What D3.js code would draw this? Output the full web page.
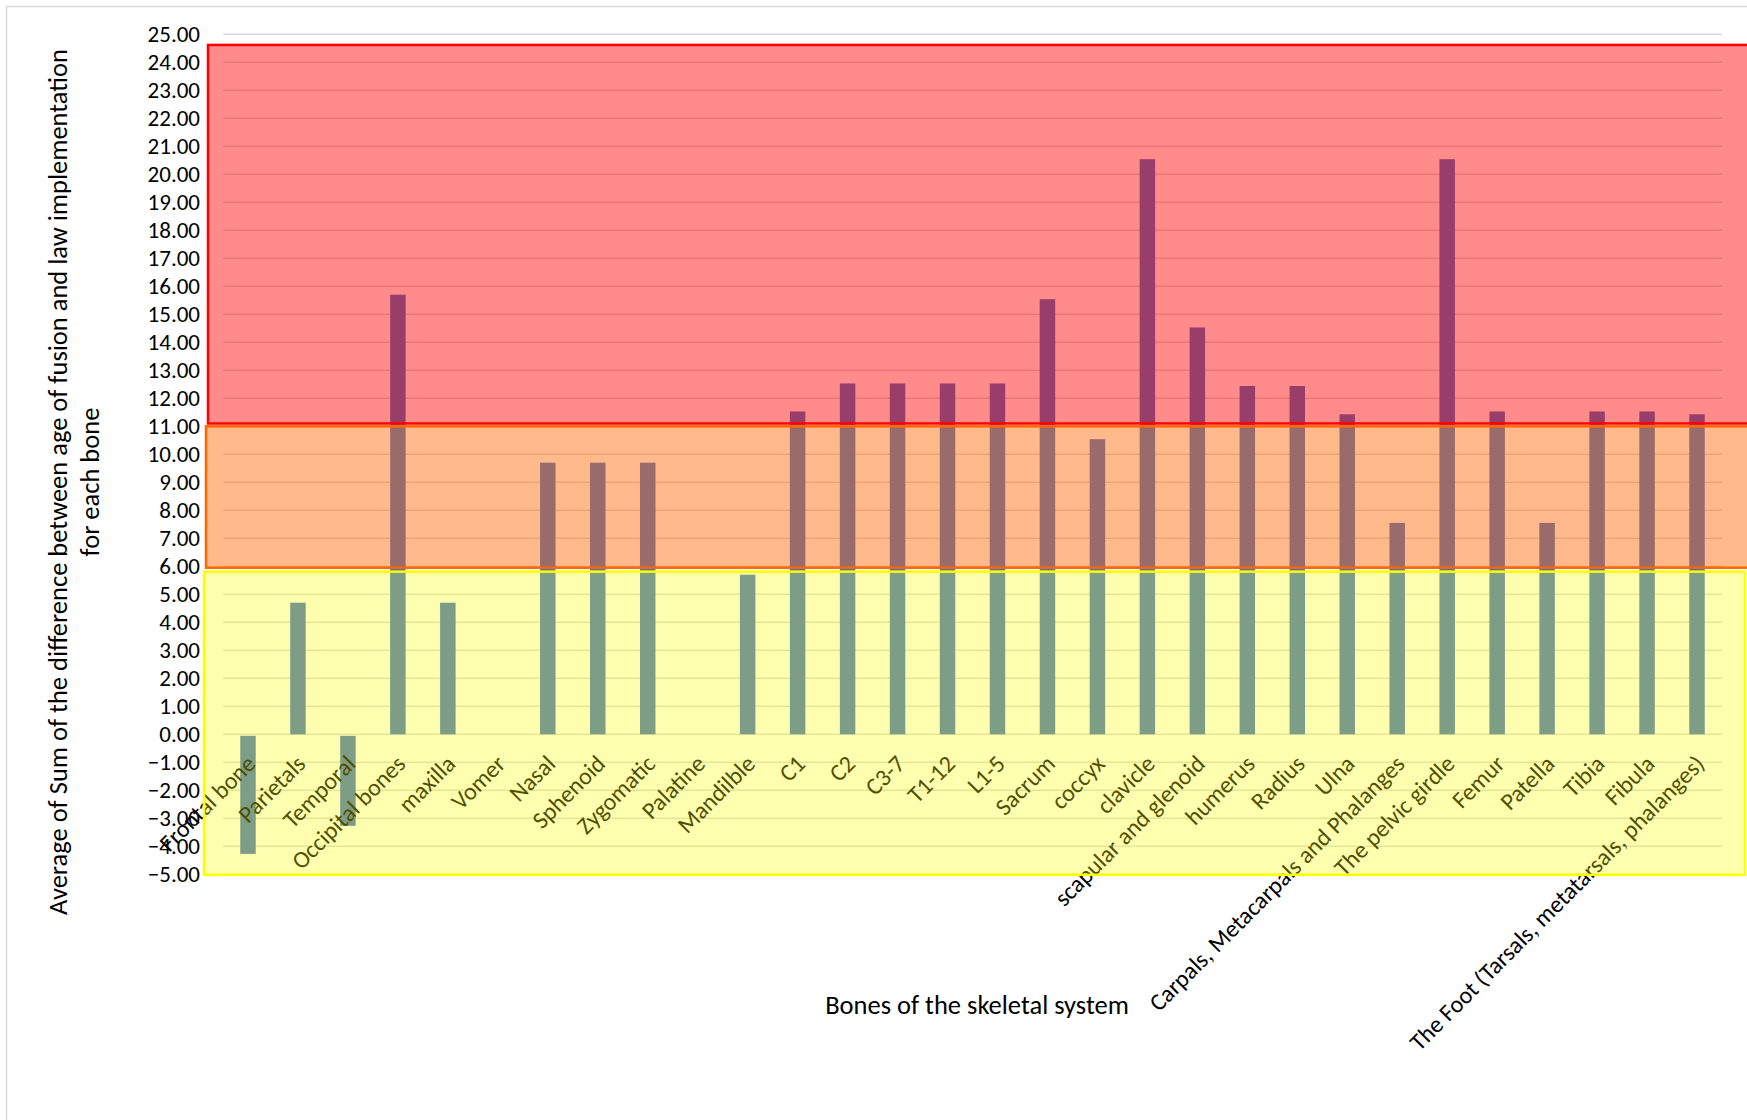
<!DOCTYPE html>
<html>
<head>
<meta charset="utf-8">
<script src="https://cdn.jsdelivr.net/npm/d3@7"></script>
<style>
  html, body { margin: 0; padding: 0; background: #ffffff; }
  svg { display: block; }
  text { font-family: "Carlito", "Lato", "Open Sans", sans-serif; fill: #000; }
</style>
</head>
<body>
<svg id="chart" width="1747" height="1120"></svg>
<script>
// Bones of the skeletal system
const categories = [
  "Frontal bone", "Parietals", "Temporal", "Occipital bones", "maxilla", "Vomer",
  "Nasal", "Sphenoid", "Zygomatic", "Palatine", "Mandilble", "C1", "C2", "C3-7",
  "T1-12", "L1-5", "Sacrum", "coccyx", "clavicle", "scapular and glenoid",
  "humerus", "Radius", "Ulna", "Carpals, Metacarpals and Phalanges",
  "The pelvic girdle", "Femur", "Patella", "Tibia", "Fibula",
  "The Foot (Tarsals, metatarsals, phalanges)"
];

// Average of sum of the difference between age of fusion and law implementation
const values = [
  -4.27, 4.70, -3.27, 15.70, 4.70, 0.00,
  9.70, 9.70, 9.70, 0.00, 5.70, 11.53, 12.53, 12.53,
  12.53, 12.53, 15.54, 10.54, 20.54, 14.53,
  12.44, 12.44, 11.43, 7.55,
  20.54, 11.53, 7.55, 11.53, 11.53,
  11.43
];

const yTickValues = [-5, -4, -3, -2, -1, 0, 1, 2, 3, 4, 5, 6, 7, 8, 9, 10,
  11, 12, 13, 14, 15, 16, 17, 18, 19, 20, 21, 22, 23, 24, 25];

// Highlight bands laid over the chart (value ranges on the y axis)
const zoneNames = ["high", "medium", "low"];
const zoneFrom = [11.1, 5.95, -5.02];
const zoneTo = [24.62, 11.0, 5.81];

const yTitleLines = [
  "Average of Sum of the difference between age of fusion and law implementation",
  "for each bone"
];
const xTitle = "Bones of the skeletal system";

const W = 1747, H = 1120;
const plot = { left: 223, right: 1722, top: 34.3, bottom: 874.3 };

const svg = d3.select("#chart");

svg.append("rect").attr("width", W).attr("height", H).attr("fill", "#ffffff");

// outer chart frame
svg.append("rect")
  .attr("x", 6.5).attr("y", 6.5)
  .attr("width", W + 20).attr("height", H + 20)
  .attr("fill", "none").attr("stroke", "#d9d9d9").attr("stroke-width", 1.5);

const x = d3.scaleBand()
  .domain(categories)
  .range([plot.left, plot.right])
  .paddingInner(0.69)
  .paddingOuter(0.345);

const y = d3.scaleLinear()
  .domain([-5, 25])
  .range([plot.bottom, plot.top]);

// horizontal gridlines
svg.append("g")
  .selectAll("line")
  .data(yTickValues)
  .join("line")
  .attr("x1", plot.left).attr("x2", plot.right)
  .attr("y1", d => y(d)).attr("y2", d => y(d))
  .attr("stroke", "#d9d9d9").attr("stroke-width", 1.6);

// y axis tick labels
const yAxis = d3.axisLeft(y)
  .tickValues(yTickValues)
  .tickFormat(d3.format(".2f"))
  .tickSize(0)
  .tickPadding(0);
const yAxisG = svg.append("g")
  .attr("transform", `translate(${200},0)`)
  .call(yAxis);
yAxisG.select(".domain").remove();
yAxisG.selectAll("text")
  .attr("font-family", "Carlito, Lato, sans-serif")
  .attr("font-size", 23)
  .attr("fill", "#000");

// bars
svg.append("g")
  .selectAll("rect")
  .data(categories.map((c, i) => ({ c, v: values[i] })))
  .join("rect")
  .attr("x", d => x(d.c))
  .attr("width", x.bandwidth())
  .attr("y", d => d.v >= 0 ? y(d.v) : y(0) + 1.5)
  .attr("height", d => Math.max(0, d.v >= 0 ? y(0) - y(d.v) : y(d.v) - y(0) - 1.5))
  .attr("fill", "#4472c4");

// category labels, rotated
const y0 = y(0);
svg.append("g")
  .selectAll("text")
  .data(categories)
  .join("text")
  .attr("transform", d => `translate(${x(d) + x.bandwidth() / 2 + 9},${y0 + 31}) rotate(-45)`)
  .attr("text-anchor", "end")
  .attr("font-size", 24)
  .text(d => d);

// axis titles
const yTitle = svg.append("text")
  .attr("transform", `translate(67,482) rotate(-90)`)
  .attr("text-anchor", "middle")
  .attr("font-size", 26.5);
yTitle.append("tspan").attr("x", 0).attr("dy", 0).text(yTitleLines[0]);
yTitle.append("tspan").attr("x", 0).attr("dy", 32).text(yTitleLines[1]);

svg.append("text")
  .attr("x", 977).attr("y", 1014)
  .attr("text-anchor", "middle")
  .attr("font-size", 26.5)
  .text(xTitle);

// translucent bands drawn over everything
const zoneStyle = {
  high:   { fill: "#ff0000", op: 0.455, stroke: "#ff0000", left: plot.left - 15, right: W + 20 },
  medium: { fill: "#ff6600", op: 0.455, stroke: "#ff6600", left: plot.left - 17, right: W + 20 },
  low:    { fill: "#ffff00", op: 0.31,  stroke: "#ffff00", left: plot.left - 19, right: 1745 }
};
const zones = zoneNames.map((n, i) => ({ n, from: zoneFrom[i], to: zoneTo[i] }));
// lower bands first so the upper band edges sit on top
svg.append("g")
  .selectAll("rect")
  .data(zones.slice().reverse())
  .join("rect")
  .attr("x", d => zoneStyle[d.n].left)
  .attr("width", d => zoneStyle[d.n].right - zoneStyle[d.n].left)
  .attr("y", d => y(d.to))
  .attr("height", d => y(d.from) - y(d.to))
  .attr("fill", d => zoneStyle[d.n].fill)
  .attr("fill-opacity", d => zoneStyle[d.n].op)
  .attr("stroke", d => zoneStyle[d.n].stroke)
  .attr("stroke-width", 2.5);
</script>
</body>
</html>
